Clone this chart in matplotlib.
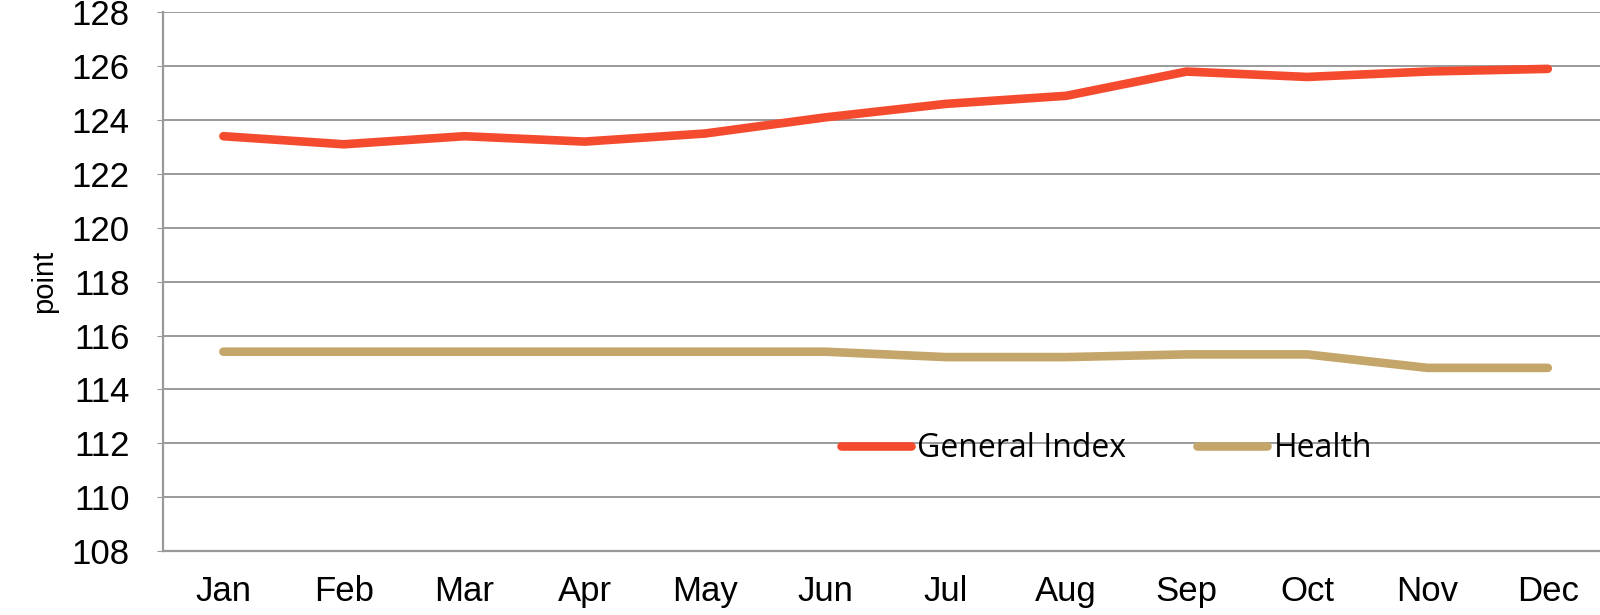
import matplotlib.pyplot as plt

months = ["Jan", "Feb", "Mar", "Apr", "May", "Jun",
          "Jul", "Aug", "Sep", "Oct", "Nov", "Dec"]
general_index = [123.4, 123.1, 123.4, 123.2, 123.5, 124.1,
                 124.6, 124.9, 125.8, 125.6, 125.8, 125.9]
health = [115.4, 115.4, 115.4, 115.4, 115.4, 115.4,
          115.2, 115.2, 115.3, 115.3, 114.8, 114.8]
y_ticks = list(range(108, 129, 2))

plt.rcParams['font.family'] = ['Liberation Sans', 'DejaVu Sans']

fig = plt.figure(figsize=(16, 6.15), dpi=100)
ax = fig.add_axes([0.102, 0.104, 0.903, 0.876])

x = list(range(len(months)))
ax.plot(x, general_index, color='#F44B2E', lw=6.2, solid_capstyle='round',
        solid_joinstyle='round', label='General Index', zorder=3)
ax.plot(x, health, color='#C4A66A', lw=6.2, solid_capstyle='round',
        solid_joinstyle='round', label='Health', zorder=3)

ax.set_xlim(-0.5, 11.5)
ax.set_ylim(108, 128)
ax.set_yticks(y_ticks)
ax.set_xticks(x)
ax.set_xticklabels(months)
ax.tick_params(axis='y', labelsize=25, length=4, color='#999999', pad=20)
ax.tick_params(axis='x', labelsize=25, length=0, pad=17)
ax.grid(axis='y', color='#9a9a9a', lw=1.4)
ax.set_axisbelow(True)
for side in ['top', 'right']:
    ax.spines[side].set_visible(False)
for side in ['left', 'bottom']:
    ax.spines[side].set_color('#999999')
    ax.spines[side].set_linewidth(1.6)
ax.set_ylabel('point', fontsize=21, labelpad=10)

leg = ax.legend(loc='center left', bbox_to_anchor=(0.469, 0.19), ncol=2,
                frameon=False, borderpad=0, borderaxespad=0,
                handlelength=2.2, handletextpad=0.2, columnspacing=2.2,
                prop={'family': 'Open Sans', 'size': 23})

fig.savefig('out.png', dpi=100)
